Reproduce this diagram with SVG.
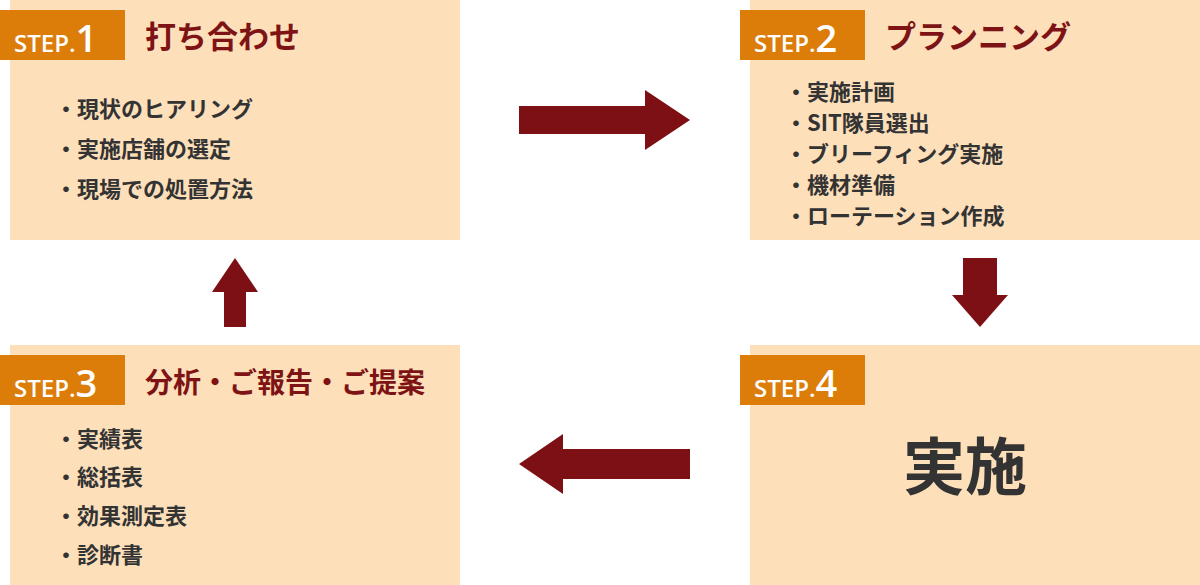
<svg xmlns="http://www.w3.org/2000/svg" width="1200" height="585" viewBox="0 0 1200 585">
<style>
.box{fill:#fddfba}
.stepbg{fill:#dc7d0a}
.step{font-family:"Open Sans","Noto Sans",sans-serif;fill:#fff;font-weight:600}
.title{font-family:"Noto Sans CJK JP",sans-serif;font-weight:700;font-size:31px;fill:#7d1315}
.item{font-family:"Noto Sans CJK JP",sans-serif;font-weight:700;font-size:22px;fill:#333}
.arr{fill:#7d1015}
</style>
<rect width="1200" height="585" fill="#fff"/>
<g id="step1">
<rect class="box" x="10" y="0" width="450" height="240"/>
<rect class="stepbg" x="0" y="10" width="125" height="50"/>
<text class="step" x="14" y="52"><tspan font-size="24">STEP.</tspan><tspan font-size="38">1</tspan></text>
<text class="title" x="145" y="48">打ち合わせ</text>
<text class="item" x="55" y="117">・現状のヒアリング</text>
<text class="item" x="55" y="157">・実施店舗の選定</text>
<text class="item" x="55" y="197">・現場での処置方法</text>
</g>
<g id="step2">
<rect class="box" x="750" y="0" width="450" height="240"/>
<rect class="stepbg" x="740" y="10" width="125" height="50"/>
<text class="step" x="754" y="52"><tspan font-size="24">STEP.</tspan><tspan font-size="38">2</tspan></text>
<text class="title" x="885" y="48">プランニング</text>
<text class="item" x="785" y="100">・実施計画</text>
<text class="item" x="785" y="131">・SIT隊員選出</text>
<text class="item" x="785" y="162">・ブリーフィング実施</text>
<text class="item" x="785" y="193">・機材準備</text>
<text class="item" x="785" y="224">・ローテーション作成</text>
</g>
<g id="step3">
<rect class="box" x="10" y="345" width="450" height="240"/>
<rect class="stepbg" x="0" y="355" width="125" height="50"/>
<text class="step" x="14" y="397"><tspan font-size="24">STEP.</tspan><tspan font-size="38">3</tspan></text>
<text class="title" x="145" y="393" font-size="28" style="font-size:28px">分析・ご報告・ご提案</text>
<text class="item" x="55" y="447">・実績表</text>
<text class="item" x="55" y="485">・総括表</text>
<text class="item" x="55" y="524">・効果測定表</text>
<text class="item" x="55" y="563">・診断書</text>
</g>
<g id="step4">
<rect class="box" x="750" y="345" width="450" height="240"/>
<rect class="stepbg" x="740" y="355" width="125" height="50"/>
<text class="step" x="754" y="397"><tspan font-size="24">STEP.</tspan><tspan font-size="38">4</tspan></text>
<text x="965" y="490" text-anchor="middle" style="font-family:'Noto Sans CJK JP',sans-serif;font-weight:700;font-size:62px;fill:#333">実施</text>
</g>
<g id="connectors">
<polygon class="arr" points="519,106 645,106 645,90 690,120 645,150 645,134 519,134"/>
<polygon class="arr" points="963,258 997,258 997,295 1008,295 980,327 952,295 963,295"/>
<polygon class="arr" points="690,449 563,449 563,434 519,464 563,494 563,479 690,479"/>
<polygon class="arr" points="224,327 246,327 246,292 258,292 235,258 212,292 224,292"/>
</g>
</svg>
